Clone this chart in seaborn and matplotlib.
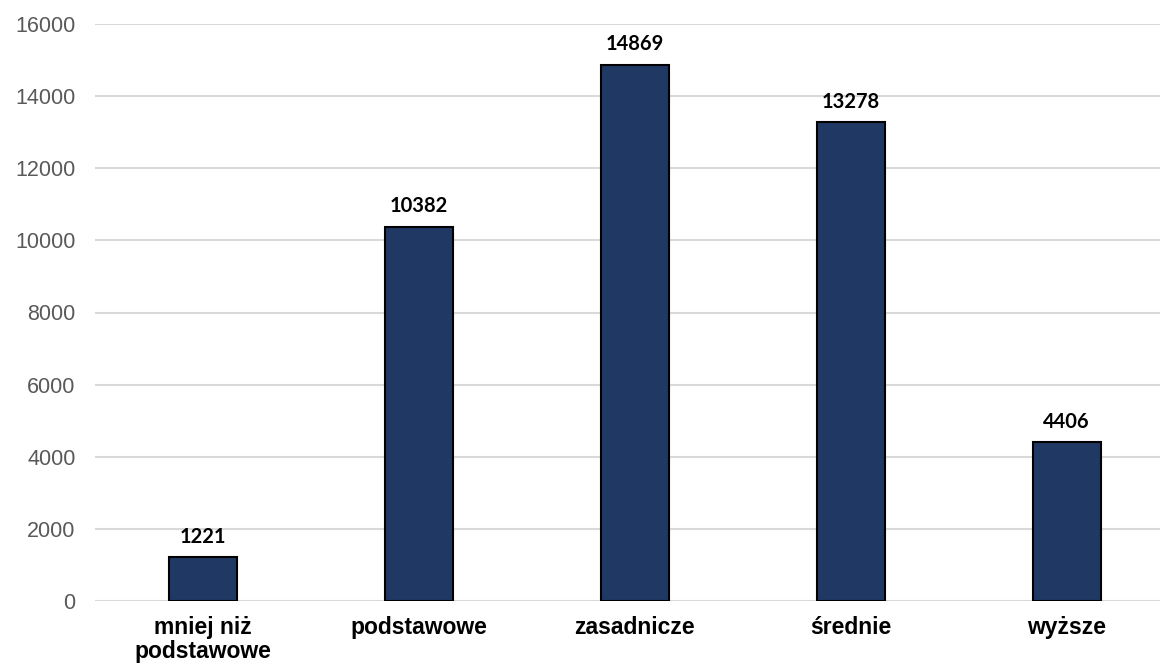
import matplotlib
matplotlib.use("Agg")
import matplotlib.pyplot as plt
import seaborn as sns
import pandas as pd

categories = ["mniej niż\npodstawowe", "podstawowe", "zasadnicze", "średnie", "wyższe"]
values = [1221, 10382, 14869, 13278, 4406]
y_ticks = [0, 2000, 4000, 6000, 8000, 10000, 12000, 14000, 16000]

bar_color = "#1F3864"
grid_color = "#D9D9D9"

sns.set_theme(style="white")
plt.rcParams["font.family"] = ["Liberation Sans", "DejaVu Sans"]

df = pd.DataFrame({"kategoria": categories, "liczba": values})

fig = plt.figure(figsize=(11.6, 6.66), dpi=100)
ax = fig.add_axes([95 / 1160, 1 - 601 / 666, (1160 - 95) / 1160, (601 - 24) / 666])

sns.barplot(data=df, x="kategoria", y="liczba", color=bar_color, width=0.315,
            edgecolor="black", linewidth=1.5, saturation=1, ax=ax, zorder=3)

ax.set_ylim(0, 16000)
ax.set_xlim(-0.5, 4.433)
ax.set_yticks(y_ticks)
ax.set_yticklabels([str(t) for t in y_ticks], fontsize=15.5, color="#595959")
ax.yaxis.grid(True, color=grid_color, linewidth=1.5, zorder=0)
ax.set_axisbelow(True)
for s in ax.spines.values():
    s.set_visible(False)
ax.tick_params(axis="y", length=0, pad=14)
ax.tick_params(axis="x", length=0, pad=11)
for lbl in ax.get_xticklabels():
    lbl.set_fontsize(16.5)
    lbl.set_fontweight("bold")
    lbl.set_color("black")
    lbl.set_linespacing(1.05)
ax.set_xlabel("")
ax.set_ylabel("")

for i, v in enumerate(values):
    ax.annotate(str(v), (i, v), xytext=(0, 7.5), textcoords="offset points",
                ha="center", va="bottom", fontsize=14.5, fontweight="bold",
                family=["Lato", "DejaVu Sans"], color="black")

fig.savefig("out.png", dpi=100)
